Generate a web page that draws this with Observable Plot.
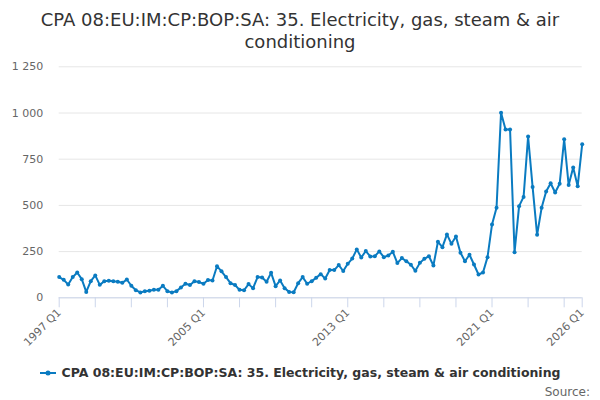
<!DOCTYPE html>
<html><head><meta charset="utf-8">
<script src="https://cdn.jsdelivr.net/npm/d3@7"></script>
<script src="https://cdn.jsdelivr.net/npm/@observablehq/plot@0.6"></script>
<style>
body{margin:0;width:600px;height:400px;position:relative;font-family:"DejaVu Sans",sans-serif;background:#fff;overflow:hidden}
#title{position:absolute;top:9px;left:0;width:600px;text-align:center;font-size:18px;line-height:22px;color:#333}
#chart{position:absolute;top:52px;left:0}
#legend{position:absolute;top:365px;left:0;width:600px;text-align:center;font-size:12.5px;font-weight:bold;color:#333;white-space:nowrap}
#legend svg{vertical-align:-1px;margin-right:6px}
#source{position:absolute;top:385px;right:10px;font-size:12px;color:#666}
</style></head>
<body>
<div id="title">CPA 08:EU:IM:CP:BOP:SA: 35. Electricity, gas, steam &amp; air<br>conditioning</div>
<div id="chart"></div>
<div id="legend"><svg width="16" height="10"><line x1="0" y1="5" x2="16" y2="5" stroke="#0a7bc1" stroke-width="2"/><circle cx="8" cy="5" r="2.5" fill="#0a7bc1"/></svg>CPA 08:EU:IM:CP:BOP:SA: 35. Electricity, gas, steam &amp; air conditioning</div>
<div id="source">Source:</div>
<script>
const seriesName = "CPA 08:EU:IM:CP:BOP:SA: 35. Electricity, gas, steam & air conditioning";
const startYear = 1997;
const values = [
  112, 97, 72, 112,
  137, 101, 32, 90,
  121, 70, 90, 92,
  90, 87, 81, 99,
  65, 41, 29, 36,
  38, 43, 43, 65,
  36, 29, 36, 56,
  76, 69, 90, 85,
  76, 96, 94, 171,
  143, 112, 79, 69,
  43, 41, 74, 52,
  112, 110, 87, 135,
  63, 94, 52, 32,
  30, 79, 112, 76,
  90, 108, 128, 104,
  150, 150, 177, 145,
  184, 212, 262, 218,
  253, 224, 225, 251,
  220, 229, 249, 188,
  215, 198, 179, 146,
  189, 211, 225, 175,
  303, 274, 343, 292,
  332, 244, 198, 233,
  180, 126, 137, 220,
  397, 487, 1001, 911,
  911, 247, 496, 546,
  873, 600, 341, 487,
  575, 620, 570, 617,
  858, 610, 705, 604,
  831
];
const xTicks = [1997, 1999, 2001, 2003, 2005, 2007, 2009, 2011, 2013, 2015, 2017, 2019, 2021, 2023, 2025, 2026];
const xLabels = ["1997 Q1", "2005 Q1", "2013 Q1", "2021 Q1", "2026 Q1"];
const yTicks = [0, 250, 500, 750, 1000, 1250];

const periodLabel = t => `${Math.floor(t + 1e-6)} Q${Math.round((t - Math.floor(t + 1e-6)) * 4) + 1}`;
const data = values.map((v, i) => ({t: startYear + i / 4, period: periodLabel(startYear + i / 4), value: v}));

const color = "#0a7bc1";
const chart = Plot.plot({
  width: 600,
  height: 300,
  marginLeft: 58.7,
  marginRight: 18.3,
  marginTop: 14.3,
  marginBottom: 54.7,
  style: {fontFamily: "DejaVu Sans, sans-serif", fontSize: "11px", color: "#666", background: "#fff", overflow: "visible"},
  x: {domain: [1997, 2026]},
  y: {domain: [0, 1250]},
  marks: [
    Plot.gridY(yTicks, {stroke: "#e6e6e6", strokeOpacity: 1}),
    Plot.axisY(yTicks, {tickSize: 0, tickPadding: 16, tickFormat: d => d3.format(",")(d).replace(/,/g, " "), label: null, fill: "#666"}),
    Plot.axisX(xTicks, {tickSize: 10, stroke: "#ccd6eb", strokeOpacity: 1, tickRotate: -45, tickPadding: 3, fill: "#666",
      tickFormat: t => { const l = periodLabel(t); return xLabels.includes(l) ? l : ""; }, label: null}),
    Plot.ruleY([0], {stroke: "#ccd6eb"}),
    Plot.line(data, {x: "t", y: "value", stroke: color, strokeWidth: 2}),
    Plot.dot(data, {x: "t", y: "value", r: 2, fill: color})
  ]
});
document.getElementById("chart").appendChild(chart);
</script>
</body></html>
